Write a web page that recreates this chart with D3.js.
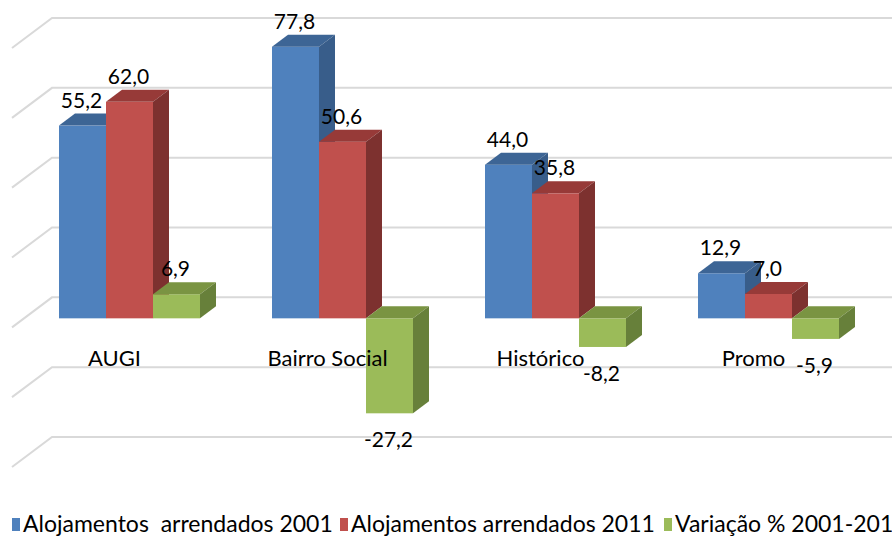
<!DOCTYPE html>
<html>
<head>
<meta charset="utf-8">
<script src="https://cdn.jsdelivr.net/npm/d3@7"></script>
<style>
  html, body { margin: 0; padding: 0; background: #fff; }
  svg { display: block; font-family: Lato, "Open Sans", sans-serif; }
</style>
</head>
<body>
<div id="chart"></div>
<script>
// data
const categories = ['AUGI', 'Bairro Social', 'Histórico', 'Promo'];
const seriesNames = ['Alojamentos  arrendados 2001', 'Alojamentos arrendados 2011', 'Variação % 2001-2011'];
const rented2001 = [55.2, 77.8, 44.0, 12.9];
const rented2011 = [62.0, 50.6, 35.8, 7.0];
const variation  = [6.9, -27.2, -8.2, -5.9];
const gridTicks  = [-40, -20, 0, 20, 40, 60, 80];

// face colours: front, top, side
const palette = [
    {front: '#4F81BD', top: '#3D6595', side: '#385D8A'},
    {front: '#C0504D', top: '#973A38', side: '#7D312F'},
    {front: '#9BBB59', top: '#7A9442', side: '#67803A'}
];

const width = 892, height = 536;
const depth = {dx: 16, dy: -12};      // bar depth offset
const wall  = {dx: -40, dy: 30};      // side wall diagonal
const backShift = {dx: 28, dy: -21};  // back wall relative to bar front plane

const svg = d3.select('#chart')
    .append('svg')
    .attr('width', width)
    .attr('height', height);

const values = [rented2001, rented2011, variation];

const x = d3.scaleBand()
    .domain(categories)
    .range([23, 875])
    .paddingInner(0.338)
    .paddingOuter(0.169);

const xSeries = d3.scaleBand()
    .domain(d3.range(seriesNames.length))
    .range([0, x.bandwidth()]);

// front plane of bars
const y = d3.scaleLinear()
    .domain([-40, 80])
    .range([458, 39]);

const fmt = d3.formatLocale({decimal: ',', thousands: '.', grouping: [3], currency: ['', '€'], minus: '-'}).format('.1f');

// back wall gridlines
const grid = svg.append('g').attr('class', 'grid');
const wallLeft = 52;
grid.selectAll('path')
    .data(gridTicks)
    .join('path')
    .attr('d', t => {
        const yy = y(t) + backShift.dy;
        return `M${wallLeft + wall.dx},${yy + wall.dy}L${wallLeft},${yy}L${width},${yy}`;
    })
    .attr('fill', 'none')
    .attr('stroke', '#D9D9D9')
    .attr('stroke-width', 2);

// bars, left to right so nearer faces overlap correctly
const bars = [];
categories.forEach((c, ci) => {
    values.forEach((vals, si) => {
        bars.push({cat: c, s: si, v: vals[ci]});
    });
});

const barG = svg.append('g').attr('class', 'bars');
const y0 = y(0);
const bw = xSeries.bandwidth();

bars.forEach(d => {
    const x0 = x(d.cat) + xSeries(d.s);
    const x1 = x0 + bw;
    const yTop = Math.min(y(d.v), y0);
    const yBot = Math.max(y(d.v), y0);
    const col = palette[d.s];
    const g = barG.append('g');
    g.append('rect')
        .attr('x', x0).attr('y', yTop)
        .attr('width', bw).attr('height', yBot - yTop)
        .attr('fill', col.front);
    g.append('path')
        .attr('d', `M${x0},${yTop}L${x1},${yTop}L${x1 + depth.dx},${yTop + depth.dy}L${x0 + depth.dx},${yTop + depth.dy}Z`)
        .attr('fill', col.top);
    g.append('path')
        .attr('d', `M${x1},${yTop}L${x1 + depth.dx},${yTop + depth.dy}L${x1 + depth.dx},${yBot + depth.dy}L${x1},${yBot}Z`)
        .attr('fill', col.side);
});

// value labels
svg.append('g').attr('class', 'labels')
    .selectAll('text')
    .data(bars)
    .join('text')
    .attr('x', d => x(d.cat) + xSeries(d.s) + bw / 2 - 1)
    .attr('y', d => d.v >= 0 ? y(d.v) - 18 : y(d.v) + 34)
    .attr('text-anchor', 'middle')
    .attr('font-size', 21)
    .attr('fill', '#000')
    .text(d => fmt(d.v));

// category labels on the floor edge
svg.append('g').attr('class', 'categories')
    .selectAll('text')
    .data(categories)
    .join('text')
    .attr('x', d => x(d) + x.bandwidth() / 2 - 15)
    .attr('y', y0 + 48)
    .attr('text-anchor', 'middle')
    .attr('font-size', 22)
    .attr('fill', '#000')
    .text(d => d);

// legend
const legendX = [12, 340, 664];
const legend = svg.append('g').attr('class', 'legend')
    .selectAll('g')
    .data(seriesNames)
    .join('g')
    .attr('transform', (d, i) => `translate(${legendX[i]},0)`);
legend.append('rect')
    .attr('x', 0).attr('y', 518)
    .attr('width', 8).attr('height', 13)
    .attr('fill', (d, i) => palette[i].front);
legend.append('text')
    .attr('x', 11).attr('y', 532)
    .attr('font-size', 23)
    .attr('fill', '#000')
    .style('white-space', 'pre')
    .text(d => d);
</script>
</body>
</html>
